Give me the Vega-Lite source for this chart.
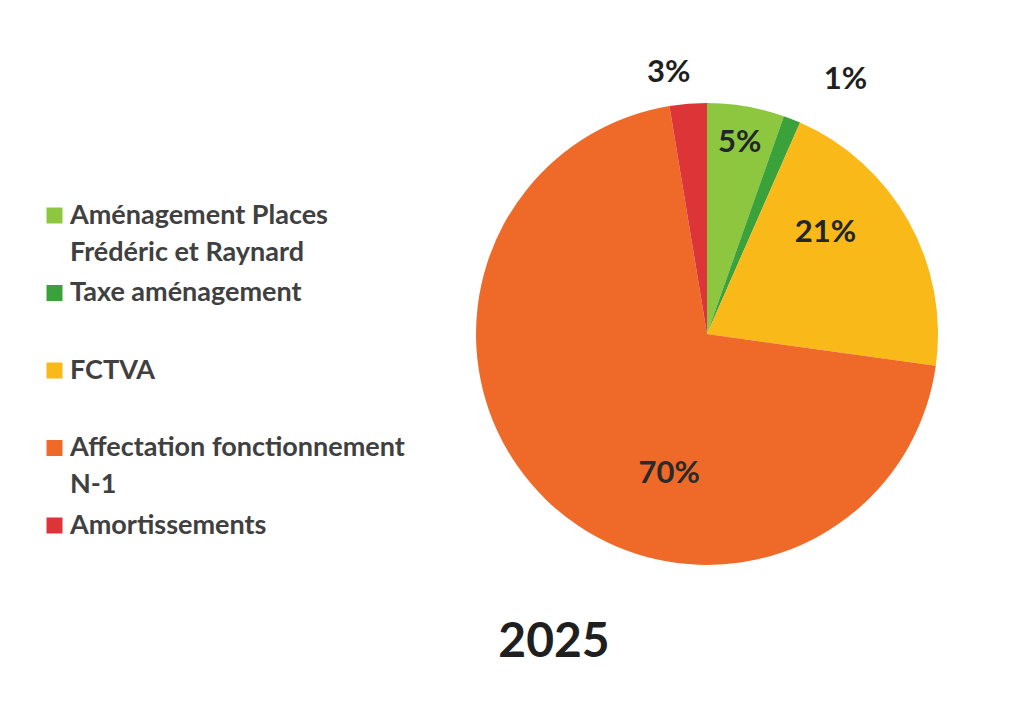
{
  "$schema": "https://vega.github.io/schema/vega-lite/v6.json",
  "width": 462,
  "height": 462,
  "autosize": {"type": "none"},
  "padding": {"left": 476, "top": 103, "right": 94, "bottom": 154},
  "background": "white",
  "config": {
    "view": {"stroke": null},
    "font": "Lato",
    "style": {"guide-label": {"lineHeight": 37}}
  },
  "title": {
    "text": "2025",
    "orient": "bottom",
    "anchor": "middle",
    "dx": -153,
    "offset": 48,
    "fontSize": 48,
    "fontWeight": "bold",
    "color": "#1f1f1f",
    "font": "Lato"
  },
  "data": {
    "values": [
      {"poste": "Aménagement Places Frédéric et Raynard", "part": 0.054, "ordre": 1},
      {"poste": "Taxe aménagement", "part": 0.012, "ordre": 2},
      {"poste": "FCTVA", "part": 0.206, "ordre": 3},
      {"poste": "Affectation fonctionnement N-1", "part": 0.702, "ordre": 4},
      {"poste": "Amortissements", "part": 0.026, "ordre": 5}
    ]
  },
  "encoding": {
    "theta": {"field": "part", "type": "quantitative", "stack": true},
    "order": {"field": "ordre", "type": "quantitative"},
    "color": {
      "field": "poste",
      "type": "nominal",
      "scale": {
        "domain": ["Aménagement Places Frédéric et Raynard", "Taxe aménagement", "FCTVA", "Affectation fonctionnement N-1", "Amortissements"],
        "range": ["#8DC63F", "#3BA13A", "#F9B918", "#EF6A29", "#DC3437"]
      },
      "legend": {
        "title": null,
        "orient": "none",
        "legendX": -435,
        "legendY": 99,
        "padding": 0,
        "symbolType": "square",
        "symbolSize": 256,
        "symbolStrokeWidth": 0,
        "labelFont": "Lato",
        "labelFontSize": 27,
        "labelFontWeight": "bold",
        "labelColor": "#404040",
        "labelLimit": 450,
        "labelOffset": 2,
        "rowPadding": 12.5,
        "gridAlign": "all",
        "labelExpr": "datum.label == 'Aménagement Places Frédéric et Raynard' ? ['Aménagement Places', 'Frédéric et Raynard'] : datum.label == 'Affectation fonctionnement N-1' ? ['Affectation fonctionnement', 'N-1'] : datum.label == 'FCTVA' ? '\u00a0FCTVA' : datum.label"
      }
    }
  },
  "layer": [
    {"mark": {"type": "arc", "outerRadius": 231}},
    {
      "mark": {"type": "text", "radius": 194, "fontSize": 31, "fontWeight": "bold", "font": "Lato"},
      "encoding": {"text": {"condition": {"test": "datum.ordre == 1", "field": "part", "type": "quantitative", "format": ".0%"}, "value": ""}, "color": {"value": "#22262b"}}
    },
    {
      "mark": {"type": "text", "radius": 289, "dx": 32, "dy": 15, "fontSize": 31, "fontWeight": "bold", "font": "Lato"},
      "encoding": {"text": {"condition": {"test": "datum.ordre == 2", "field": "part", "type": "quantitative", "format": ".0%"}, "value": ""}, "color": {"value": "#1f1f1f"}}
    },
    {
      "mark": {"type": "text", "radius": 155, "dx": -17, "dy": -25, "fontSize": 31, "fontWeight": "bold", "font": "Lato"},
      "encoding": {"text": {"condition": {"test": "datum.ordre == 3", "field": "part", "type": "quantitative", "format": ".0%"}, "value": ""}, "color": {"value": "#22262b"}}
    },
    {
      "mark": {"type": "text", "radius": 150, "dx": 67, "dy": 33, "fontSize": 31, "fontWeight": "bold", "font": "Lato"},
      "encoding": {"text": {"condition": {"test": "datum.ordre == 4", "field": "part", "type": "quantitative", "format": ".0%"}, "value": ""}, "color": {"value": "#2a2a2a"}}
    },
    {
      "mark": {"type": "text", "radius": 262, "dx": -17, "fontSize": 31, "fontWeight": "bold", "font": "Lato"},
      "encoding": {"text": {"condition": {"test": "datum.ordre == 5", "field": "part", "type": "quantitative", "format": ".0%"}, "value": ""}, "color": {"value": "#1f1f1f"}}
    }
  ]
}
